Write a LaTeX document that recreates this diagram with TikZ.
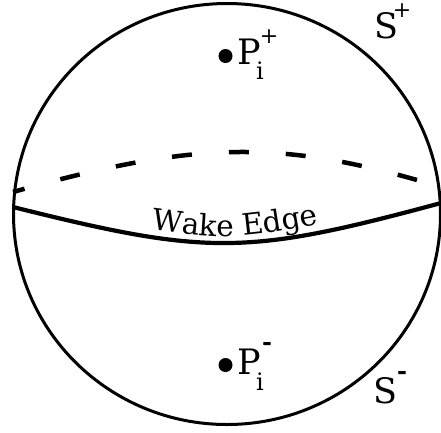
\documentclass[tikz,border=0pt]{standalone}
\usepackage{fontspec}
\setmainfont{DejaVu Serif}
\usetikzlibrary{shapes.geometric,decorations.text}
\begin{document}
\begin{tikzpicture}[x=1pt,y=-1pt,
  sphereline/.style={draw, ellipse, line width=3pt, inner sep=0pt},
  wakeline/.style={line width=4.2pt},
  backline/.style={line width=4.5pt, dash pattern=on 20pt off 37pt, dash phase=8pt},
  ptdot/.style={circle, fill, inner sep=0pt, minimum size=14pt},
  bigtxt/.style={inner sep=0pt, font=\fontsize{35}{38}\selectfont},
  subtxt/.style={inner sep=0pt, font=\fontsize{24}{26}\selectfont},
  suptxt/.style={inner sep=0pt, font=\fontsize{22}{24}\selectfont},
  mintxt/.style={inner sep=0pt, font=\bfseries\fontsize{24}{26}\selectfont}]
\useasboundingbox (0,0) rectangle (441,432);
\node[sphereline, minimum width=427pt, minimum height=421pt] (sphere) at (227,214) {};
\coordinate (wl) at (13,207);
\coordinate (wr) at (441,203);
\coordinate (bl) at (13,192);
\coordinate (br) at (441,187);
\draw[wakeline] (wl) .. controls (208,255.7) and (246,255.7) .. (wr);
\draw[backline] (bl) .. controls (200,139.5) and (283,139.5) .. (br);
\coordinate (tl) at (140,228);
\coordinate (tr) at (330,222);
\path[decorate, decoration={text along path, text align=center,
  text={|\fontsize{29.5}{32}\selectfont|Wake Edge}}]
  (tl) .. controls (232,240) .. (tr);
% P_i^+
\node[ptdot] (dplus) at (225.5,56) {};
\node[bigtxt, anchor=base west] (pplus) at (237,64) {P};
\node[subtxt, anchor=base west] (pplusi) at (256,79) {i};
\node[suptxt] (pplussup) at (269,37) {+};
% P_i^-
\node[ptdot] (dminus) at (225.5,365) {};
\node[bigtxt, anchor=base west] (pminus) at (237,374) {P};
\node[subtxt, anchor=base west] (pminusi) at (256,390) {i};
\node[mintxt] (pminussup) at (267,346) {-};
% S^+ and S^-
\node[bigtxt, anchor=base west] (splus) at (374,38) {S};
\node[suptxt] (splussup) at (402,11) {+};
\node[bigtxt, anchor=base west] (sminus) at (373,403) {S};
\node[mintxt] (sminussup) at (402,375) {-};
\end{tikzpicture}
\end{document}
